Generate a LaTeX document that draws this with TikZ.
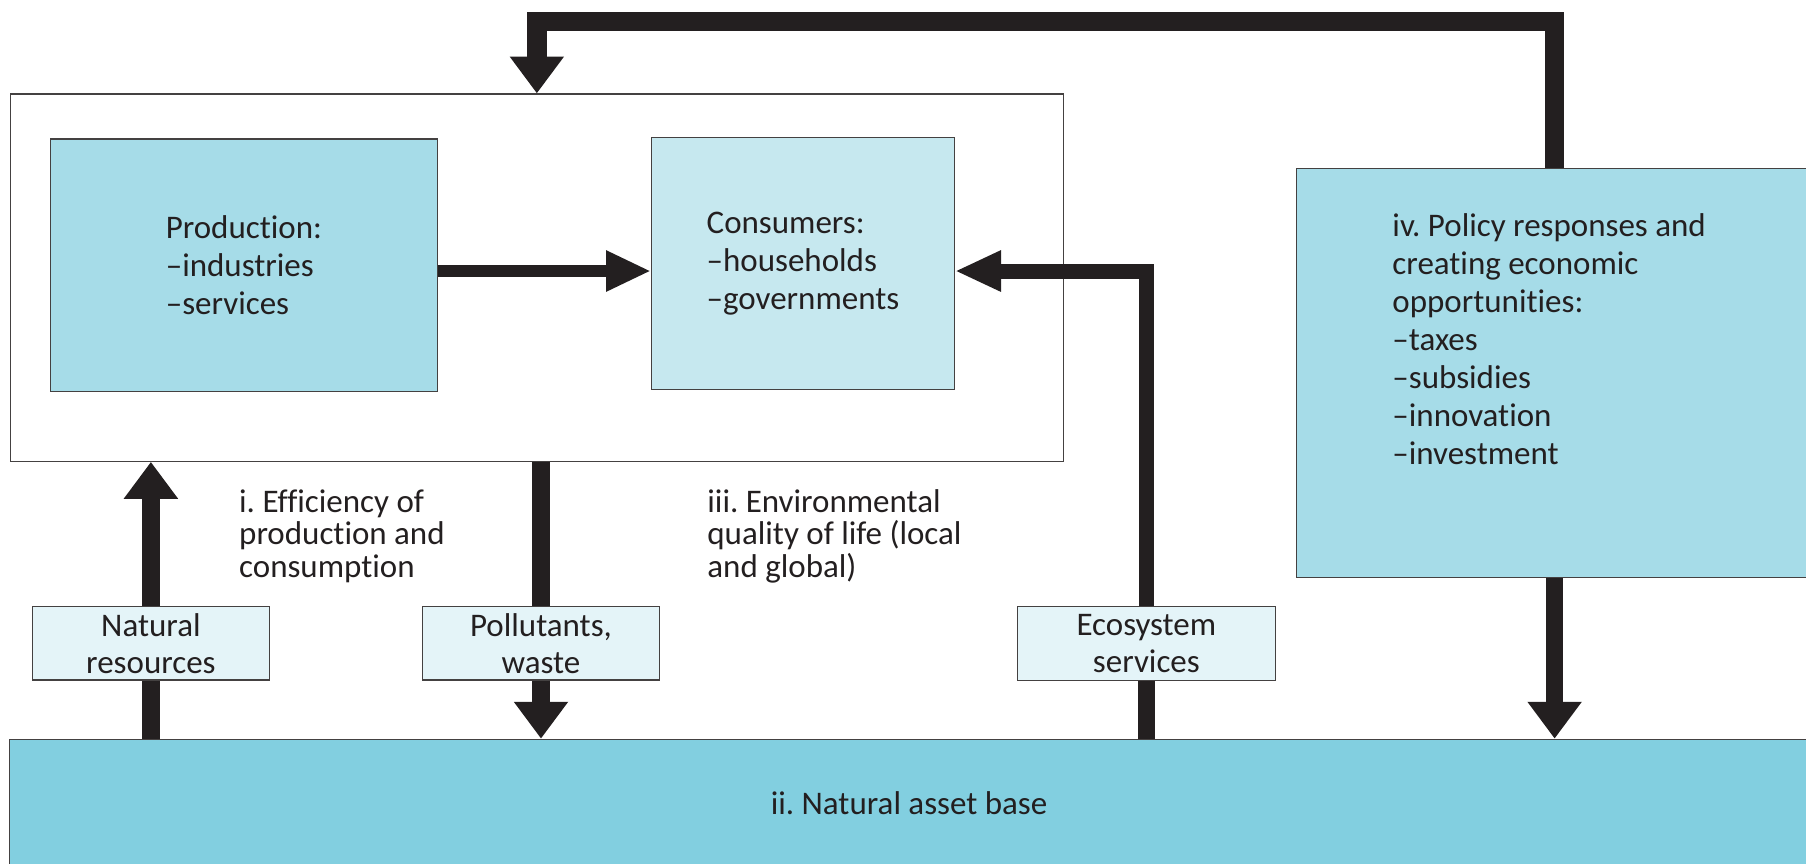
\documentclass[tikz,border=0pt]{standalone}
\usepackage{fontspec}
\setmainfont{Carlito}[Ligatures=NoCommon]
\frenchspacing
\usetikzlibrary{arrows.meta,positioning,calc}
\definecolor{ink}{HTML}{231F20}
\definecolor{prodblue}{HTML}{A6DCE8}
\definecolor{consblue}{HTML}{C6E8EF}
\definecolor{paleblue}{HTML}{E4F4F8}
\definecolor{baseblue}{HTML}{82CFE0}

\begin{document}
\begin{tikzpicture}[x=0.5pt, y=-0.5pt,
    box/.style={rectangle, draw=ink!85, line width=0.5pt, text=ink, align=left, font={\fontsize{14.3}{16.5}\selectfont}, inner sep=0pt},
    tag/.style={rectangle, draw=ink!85, line width=0.5pt, fill=paleblue, text=ink, align=center, font={\fontsize{14.3}{16}\selectfont}, minimum width=102.5pt, minimum height=31.8pt, inner sep=0pt},
    note/.style={text=ink, align=left, font={\fontsize{14.3}{14}\selectfont}, inner sep=0pt, anchor=west},
    flow/.style={draw=ink, line width=7.5pt, -{Triangle[length=16pt, width=22.5pt]}},
    hflow/.style={draw=ink, line width=5.5pt, -{Triangle[length=19.5pt, width=16.5pt]}},
    plain/.style={draw=ink, line width=7.5pt}
]
    \useasboundingbox (0,0) rectangle (1566,749);

    % economy
    \node[box, minimum width=456.5pt, minimum height=159.25pt] (econ) at (465.5,240.75) {};
    \node[box, fill=prodblue, minimum width=167.5pt, minimum height=109.5pt] (prod) at (211.5,230) {Production:\\–industries\\–services};
    \node[box, fill=consblue, minimum width=131.25pt, minimum height=109.5pt] (cons) at (696.25,228.5) {Consumers:\\–households\\–governments};

    % policy and natural assets
    \node[box, fill=prodblue, minimum width=222pt, minimum height=177.5pt] (policy) at (1346,323.5) {};
    \node[note, font={\fontsize{14.3}{16.5}\selectfont}] (policytxt) at (1207,294) {iv. Policy responses and\\creating economic\\opportunities:\\–taxes\\–subsidies\\–innovation\\–investment};
    \node[box, fill=baseblue, align=center, minimum width=779.75pt, minimum height=55pt] (base) at (788.25,696) {ii. Natural asset base};

    \node[tag] (natres) at (130.85,557.8) {Natural\\resources};
    \node[tag] (waste) at (469.1,557.8) {Pollutants,\\waste};
    \node[tag, minimum width=112pt] (ecosys) at (994,558) {Ecosystem\\services};

    \node[note] (effic) at (207,465) {i. Efficiency of\\production and\\consumption};
    \node[note] (envqual) at (613,465) {iii. Environmental\\quality of life (local\\and global)};

    % flows
    \draw[hflow] ([yshift=-2.5pt]prod.east) -- ([yshift=-2.5pt]prod.east -| cons.west);
    \draw[plain] (base.north -| natres.south) -- (natres.south);
    \draw[flow] (natres.north) -- (natres.north |- econ.south);
    \draw[plain] (econ.south -| waste.north) -- (waste.north);
    \draw[flow] (waste.south) -- (waste.south |- base.north);
    \draw[plain] (base.north -| ecosys.south) -- (ecosys.south);
    \draw[hflow, line width=6.5pt, -{Triangle[length=20pt, width=16.5pt]}] (ecosys.north) |- ([yshift=-3.25pt]cons.east);
    \draw[flow] ([xshift=1pt]policy.south) -- ([xshift=1pt]policy.south |- base.north);

    \coordinate (loop) at (465.5,18.5);
    \draw[flow, line width=8.5pt] ([xshift=1pt]policy.north) |- (loop) -- (econ.north);
\end{tikzpicture}
\end{document}
